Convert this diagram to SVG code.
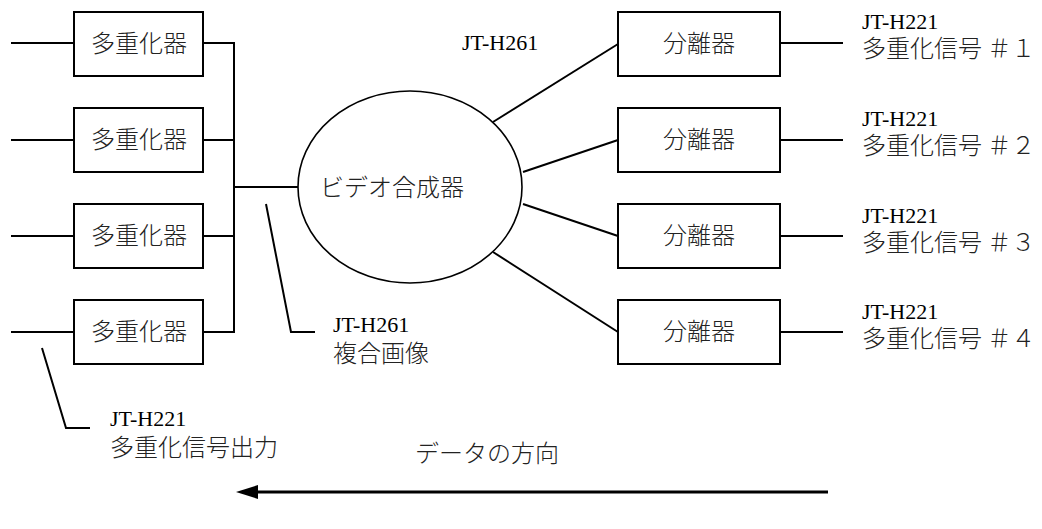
<svg xmlns="http://www.w3.org/2000/svg" width="1042" height="529" viewBox="0 0 1042 529">
<style>
.box{fill:#fff;stroke:#000;stroke-width:2}
.ln{fill:none;stroke:#000;stroke-width:2}
.jp{font-family:"Noto Sans CJK JP","Noto Sans CJK SC",sans-serif;font-size:24px;font-weight:300;fill:#222}
.en{font-family:"Liberation Serif","Times New Roman",serif;font-size:22px;fill:#000}
</style>
<g id="connectors">
<line class="ln" x1="11" y1="43" x2="74" y2="43"/>
<line class="ln" x1="11" y1="140" x2="74" y2="140"/>
<line class="ln" x1="11" y1="236" x2="74" y2="236"/>
<line class="ln" x1="11" y1="332" x2="74" y2="332"/>
<polyline class="ln" points="203,43 234,43 234,332 203,332"/>
<line class="ln" x1="203" y1="140" x2="234" y2="140"/>
<line class="ln" x1="203" y1="236" x2="234" y2="236"/>
<line class="ln" x1="234" y1="187" x2="298" y2="187"/>
<polyline class="ln" points="266,204 291,332 315,332"/>
<polyline class="ln" points="42,348 66,428 90,428"/>
<line class="ln" x1="493" y1="122" x2="618" y2="44"/>
<line class="ln" x1="523" y1="172" x2="618" y2="140"/>
<line class="ln" x1="523" y1="204" x2="618" y2="236"/>
<line class="ln" x1="493" y1="252" x2="618" y2="332"/>
<line class="ln" x1="780" y1="43" x2="843" y2="43"/>
<line class="ln" x1="780" y1="140" x2="843" y2="140"/>
<line class="ln" x1="780" y1="236" x2="843" y2="236"/>
<line class="ln" x1="780" y1="332" x2="843" y2="332"/>
<line x1="828" y1="492" x2="254" y2="492" stroke="#000" stroke-width="3"/>
<polygon points="236,492 258,485 258,499" fill="#000"/>
</g>
<g id="mux1"><rect class="box" x="74" y="12" width="129" height="64"/><text class="jp" x="139" y="52" text-anchor="middle">多重化器</text></g>
<g id="mux2"><rect class="box" x="74" y="108" width="129" height="64"/><text class="jp" x="139" y="148" text-anchor="middle">多重化器</text></g>
<g id="mux3"><rect class="box" x="74" y="204" width="129" height="64"/><text class="jp" x="139" y="244" text-anchor="middle">多重化器</text></g>
<g id="mux4"><rect class="box" x="74" y="300" width="129" height="64"/><text class="jp" x="139" y="340" text-anchor="middle">多重化器</text></g>
<g id="mixer"><ellipse cx="410" cy="187" rx="112" ry="96" fill="#fff" stroke="#000" stroke-width="1.6"/><text class="jp" x="392" y="196" text-anchor="middle">ビデオ合成器</text></g>
<g id="demux1"><rect class="box" x="618" y="12" width="162" height="64"/><text class="jp" x="699" y="52" text-anchor="middle">分離器</text></g>
<g id="demux2"><rect class="box" x="618" y="108" width="162" height="64"/><text class="jp" x="699" y="148" text-anchor="middle">分離器</text></g>
<g id="demux3"><rect class="box" x="618" y="204" width="162" height="64"/><text class="jp" x="699" y="244" text-anchor="middle">分離器</text></g>
<g id="demux4"><rect class="box" x="618" y="300" width="162" height="64"/><text class="jp" x="699" y="340" text-anchor="middle">分離器</text></g>
<g id="labels">
<text class="en" x="462" y="50">JT-H261</text>
<text class="en" x="862" y="29">JT-H221</text><text class="jp" x="862" y="57">多重化信号 ＃１</text>
<text class="en" x="862" y="126">JT-H221</text><text class="jp" x="862" y="154">多重化信号 ＃２</text>
<text class="en" x="862" y="223">JT-H221</text><text class="jp" x="862" y="251">多重化信号 ＃３</text>
<text class="en" x="862" y="319">JT-H221</text><text class="jp" x="862" y="347">多重化信号 ＃４</text>
<text class="en" x="333" y="332">JT-H261</text><text class="jp" x="333" y="362">複合画像</text>
<text class="en" x="110" y="426">JT-H221</text><text class="jp" x="110" y="456">多重化信号出力</text>
<text class="jp" x="415" y="462">データの方向</text>
</g>
</svg>
